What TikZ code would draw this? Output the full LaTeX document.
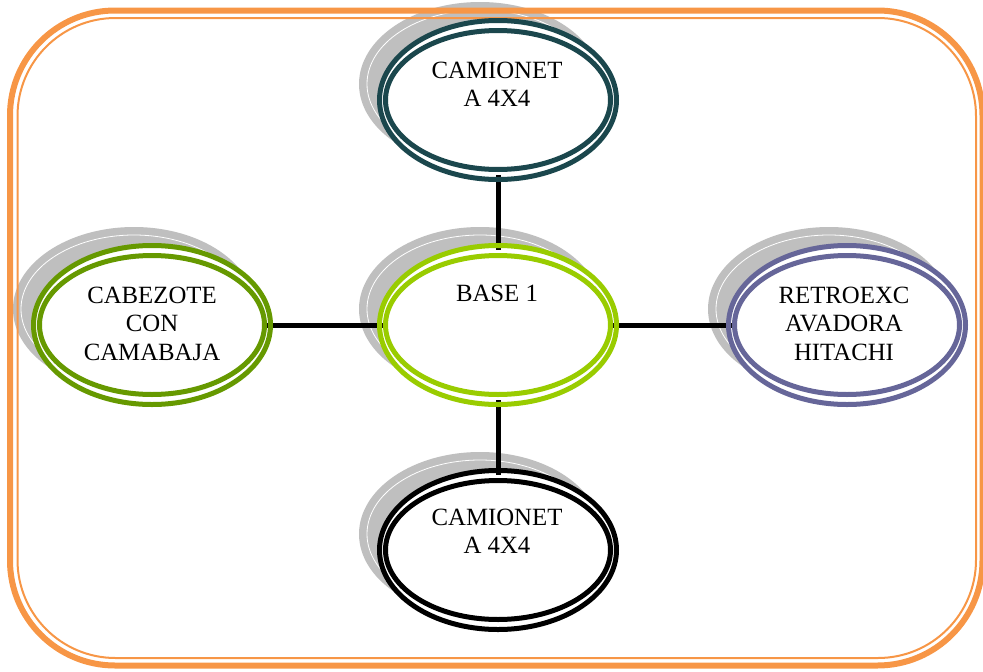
\documentclass[tikz,border=0pt]{standalone}
\usepackage{fontspec}
\setmainfont{Liberation Serif}
\usetikzlibrary{shapes.geometric}

\definecolor{frameorange}{HTML}{F79646}
\definecolor{tealring}{HTML}{1B474D}
\definecolor{oliveg}{HTML}{669900}
\definecolor{limeg}{HTML}{99CC00}
\definecolor{slatep}{HTML}{666699}
\definecolor{shade}{HTML}{BFBFBF}

\pgfdeclarelayer{shadows}
\pgfdeclarelayer{fills}
\pgfdeclarelayer{links}
\pgfsetlayers{shadows,fills,links,main}

\begin{document}
\begin{tikzpicture}[x=1pt,y=-1pt,
  ring/.style={ellipse, draw=#1, line width=5pt,
    minimum width=237pt, minimum height=159pt, inner sep=0pt},
  innerring/.style={draw=#1, line width=5pt},
  label/.style={align=center, anchor=north, inner sep=0pt,
    font=\fontsize{24.8}{28.8}\selectfont},
  link/.style={draw=black, line width=5pt, shorten <=-7pt, shorten >=-7pt},
  shadowfill/.style={fill=shade},
  shadowgap/.style={draw=white, line width=0.8pt}]

\useasboundingbox (0,0) rectangle (983,672);

% double orange frame
\draw[frameorange, line width=6pt, rounded corners=105pt] (10,10.5) rectangle (982.5,665.5);
\draw[frameorange, line width=2pt, rounded corners=98pt] (17.5,18) rectangle (976,658);

% rings
\node[ring=tealring] (top) at (498,100) {};
\node[ring=limeg] (base) at (498,325) {};
\node[ring=oliveg] (left) at (152,325) {};
\node[ring=slatep] (right) at (847,325) {};
\node[ring=black] (bottom) at (498,550) {};

\draw[innerring=tealring] (top.center) ellipse [x radius=112.5, y radius=69.5];
\draw[innerring=limeg] (base.center) ellipse [x radius=112.5, y radius=69.5];
\draw[innerring=oliveg] (left.center) ellipse [x radius=112.5, y radius=69.5];
\draw[innerring=slatep] (right.center) ellipse [x radius=112.5, y radius=69.5];
\draw[innerring=black] (bottom.center) ellipse [x radius=112.5, y radius=69.5];

% labels
\node[label] (toptext) at (497,61.5) {CAMIONET\\A 4X4};
\node[label] (basetext) at (497,284.5) {BASE 1};
\node[label] (lefttext) at (152,286.5) {CABEZOTE\\CON\\CAMABAJA};
\node[label] (righttext) at (844,286.5) {RETROEXC\\AVADORA\\HITACHI};
\node[label] (bottomtext) at (497,508.5) {CAMIONET\\A 4X4};

% connectors, reaching into the gap between the two rings
\begin{pgfonlayer}{links}
\draw[link] (top) -- (base);
\draw[link] (base) -- (bottom);
\draw[link] (left) -- (base);
\draw[link] (base) -- (right);
\end{pgfonlayer}

% white interiors of the rings
\begin{pgfonlayer}{fills}
\foreach \n in {top,base,left,right,bottom}{
  \fill[white] (\n.center) ellipse [x radius=118.5, y radius=79.5];
}
\end{pgfonlayer}

% soft shadows behind the rings
\begin{pgfonlayer}{shadows}
\foreach \n in {top,base,left,right,bottom}{
  \fill[shadowfill] ([shift={(-18,-16)}]\n.center) ellipse [x radius=121, y radius=82];
  \draw[shadowgap] ([shift={(-18,-16)}]\n.center) ellipse [x radius=113, y radius=74];
}
\end{pgfonlayer}
\end{tikzpicture}
\end{document}
